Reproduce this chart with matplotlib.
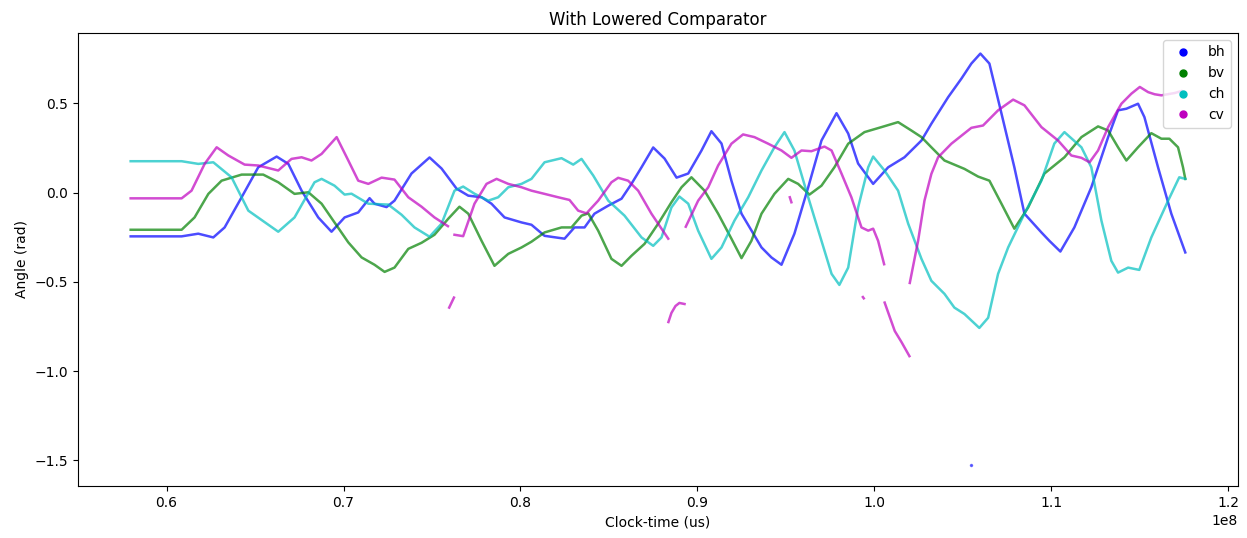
import numpy as np
import matplotlib
matplotlib.use("Agg")
import matplotlib.pyplot as plt
from matplotlib.lines import Line2D

# time values in units of 1e6 us
bh_t = [57.97, 60.85, 61.79, 62.64, 63.28, 64.24, 65.18, 66.22, 66.88, 67.63, 68.57, 69.32, 70.06, 70.83,
        71.47, 71.75, 72.43, 72.88, 73.84, 74.86, 75.54, 76.39, 77.05, 77.80, 78.36, 79.10, 80.06, 80.62,
        81.36, 82.49, 83.05, 83.62, 84.18, 84.96, 85.71, 86.27, 86.84, 87.50, 88.14, 88.82, 89.48, 90.23,
        90.79, 91.36, 91.92, 92.49, 93.62, 94.18, 94.75, 95.48, 96.26, 97.01, 97.86, 98.52, 99.08, 99.93,
        100.78, 101.70, 102.66, 103.22, 104.17, 104.92, 105.48, 105.99, 106.50, 107.18, 107.91, 108.48,
        109.44, 109.89, 110.51, 111.30, 112.26, 113.21, 113.77, 114.24, 114.90, 115.26, 116.03, 116.78, 117.57]
bh_y = [-0.245, -0.245, -0.230, -0.251, -0.195, -0.026, 0.142, 0.202, 0.161, 0.011, -0.139, -0.219, -0.139, -0.111,
        -0.031, -0.062, -0.081, -0.045, 0.107, 0.197, 0.135, 0.022, -0.017, -0.026, -0.062, -0.139, -0.167, -0.180,
        -0.242, -0.258, -0.195, -0.195, -0.118, -0.073, -0.034, 0.049, 0.142, 0.253, 0.191, 0.084, 0.107, 0.236,
        0.344, 0.275, 0.067, -0.118, -0.307, -0.363, -0.404, -0.230, 0.030, 0.292, 0.445, 0.331, 0.163, 0.049,
        0.142, 0.198, 0.292, 0.386, 0.535, 0.639, 0.723, 0.779, 0.723, 0.444, 0.142, -0.118,
        -0.223, -0.270, -0.330, -0.195, 0.030, 0.311, 0.461, 0.470, 0.498, 0.423, 0.142, -0.118, -0.335]
bh_dot_t = [105.48]
bh_dot_y = [-1.528]

bv_t = [57.97, 60.85, 61.58, 62.36, 63.11, 64.24, 65.46, 66.31, 67.23, 68.01, 68.76, 69.49, 70.27, 71.02,
        71.75, 72.32, 72.88, 73.66, 74.41, 75.14, 75.92, 76.55, 77.05, 77.80, 78.53, 79.31, 80.06, 80.62,
        81.36, 82.32, 82.88, 83.45, 83.83, 84.39, 85.14, 85.71, 86.27, 87.01, 87.78, 88.53, 89.10, 89.66,
        90.40, 91.17, 91.92, 92.49, 93.05, 93.62, 94.35, 95.13, 95.69, 96.33, 97.01, 97.74, 98.52, 99.44,
        100.40, 101.34, 102.09, 102.66, 103.22, 103.96, 105.09, 105.86, 106.50, 107.18, 107.91, 108.69,
        109.61, 110.74, 111.70, 112.64, 113.21, 113.77, 114.24, 114.90, 115.65, 116.22, 116.67, 117.16,
        117.44, 117.57]
bv_y = [-0.208, -0.208, -0.139, -0.007, 0.067, 0.101, 0.101, 0.058, -0.007, 0.002, -0.062, -0.167, -0.279, -0.363,
        -0.404, -0.444, -0.420, -0.315, -0.281, -0.236, -0.146, -0.079, -0.118, -0.270, -0.410, -0.343, -0.307, -0.275,
        -0.223, -0.195, -0.195, -0.129, -0.116, -0.213, -0.371, -0.410, -0.354, -0.287, -0.174, -0.054, 0.030, 0.086,
        0.011, -0.118, -0.258, -0.367, -0.270, -0.118, -0.007, 0.077, 0.049, -0.011, 0.039, 0.142, 0.274, 0.339,
        0.367, 0.395, 0.348, 0.311, 0.254, 0.180, 0.133, 0.090, 0.067, -0.062, -0.202, -0.083,
        0.107, 0.198, 0.311, 0.371, 0.348, 0.254, 0.180, 0.254, 0.333, 0.302, 0.302, 0.254,
        0.142, 0.077]

ch_t = [57.97, 60.85, 61.79, 62.64, 63.67, 64.62, 66.31, 67.23, 68.36, 68.76, 69.49, 70.06, 70.45, 71.40,
        72.53, 73.28, 74.01, 74.86, 75.54, 76.27, 76.76, 77.40, 78.18, 78.74, 79.31, 80.06, 80.62, 81.36,
        82.32, 82.98, 83.45, 84.11, 84.96, 85.88, 86.84, 87.50, 87.97, 88.53, 88.98, 89.48, 90.04, 90.79,
        91.36, 92.09, 92.87, 93.62, 94.35, 94.92, 95.48, 96.26, 97.01, 97.58, 98.02, 98.52, 99.08, 99.65,
        99.93, 100.57, 101.34, 101.91, 102.66, 103.22, 103.96, 104.52, 105.09, 105.93, 106.43, 106.99,
        107.56, 108.48, 109.44, 110.17, 110.74, 111.70, 112.26, 112.83, 113.39, 113.77, 114.34, 114.97,
        115.65, 116.60, 117.23, 117.57]
ch_y = [0.176, 0.176, 0.161, 0.170, 0.086, -0.101, -0.219, -0.139, 0.058, 0.077, 0.039, -0.011, -0.006, -0.062,
        -0.067, -0.124, -0.195, -0.247, -0.174, 0.011, 0.034, -0.006, -0.045, -0.026, 0.030, 0.049, 0.077, 0.170,
        0.193, 0.157, 0.189, 0.096, -0.045, -0.129, -0.251, -0.298, -0.251, -0.083, -0.022, -0.062, -0.213, -0.371,
        -0.307, -0.157, -0.026, 0.124, 0.254, 0.339, 0.236, -0.026, -0.270, -0.455, -0.517, -0.420, -0.083, 0.142,
        0.202, 0.124, 0.011, -0.174, -0.371, -0.494, -0.567, -0.644, -0.680, -0.758, -0.701, -0.455,
        -0.307, -0.118, 0.067, 0.275, 0.339, 0.254, 0.142, -0.157, -0.382, -0.448, -0.420, -0.433,
        -0.251, -0.045, 0.086, 0.077]

# cv is wrapped in several pieces
cv_t = [
    [57.97, 60.85, 61.41, 62.15, 62.83, 63.49, 64.41, 65.18, 66.31, 67.06, 67.63, 68.19, 68.76, 69.61,
     70.27, 70.83, 71.40, 72.15, 72.88, 73.66, 74.41, 75.14, 75.90],
    [76.27, 76.76, 77.40, 78.08, 78.65, 79.31, 80.06, 80.62, 81.36, 82.13, 82.77, 83.26, 83.73, 84.39,
     85.14, 85.52, 86.08, 86.65, 87.40, 88.35],
    [89.34, 90.04, 90.61, 91.17, 91.92, 92.58, 93.22, 94.00, 94.75, 95.31, 95.88, 96.44, 97.18, 97.58,
     98.14, 98.70, 99.27, 99.65, 99.93, 100.21, 100.55],
    [100.58, 101.15, 101.53, 101.98],
    [102.00, 102.47, 102.83, 103.22, 103.60, 104.35, 105.48, 106.14, 106.99, 107.84, 108.48, 109.44,
     110.38, 111.13, 111.70, 112.16, 112.64, 113.21, 113.96, 114.52, 115.00, 115.47, 115.84, 116.22,
     116.97, 117.35],
    [75.97, 76.24],
    [88.36, 88.53, 88.76, 88.98, 89.27],
    [95.22, 95.31],
    [99.35, 99.40],
]
cv_y = [
    [-0.032, -0.032, 0.011, 0.161, 0.254, 0.208, 0.157, 0.152, 0.124, 0.189, 0.198, 0.180, 0.217, 0.311,
     0.180, 0.067, 0.049, 0.084, 0.073, -0.026, -0.079, -0.139, -0.188],
    [-0.236, -0.244, -0.062, 0.049, 0.077, 0.049, 0.030, 0.011, -0.007, -0.026, -0.041, -0.101, -0.116, -0.045,
     0.058, 0.083, 0.067, 0.011, -0.118, -0.258],
    [-0.191, -0.045, 0.030, 0.152, 0.274, 0.326, 0.311, 0.274, 0.236, 0.195, 0.236, 0.232, 0.258, 0.236,
     0.107, -0.026, -0.195, -0.213, -0.202, -0.270, -0.401],
    [-0.616, -0.775, -0.837, -0.916],
    [-0.506, -0.270, -0.045, 0.105, 0.198, 0.274, 0.363, 0.376, 0.461, 0.521, 0.489, 0.367,
     0.292, 0.208, 0.195, 0.170, 0.236, 0.367, 0.498, 0.554, 0.592, 0.563, 0.551, 0.545,
     0.558, 0.569],
    [-0.644, -0.588],
    [-0.725, -0.674, -0.635, -0.618, -0.624],
    [-0.026, -0.054],
    [-0.585, -0.592],
]

labels = ["bh", "bv", "ch", "cv"]
colors = ["b", "g", "c", "m"]

fig = plt.figure(figsize=(12.47, 5.38), dpi=100)
ax = fig.add_axes([0.0625, 0.0967, 0.9303, 0.842])

scale = 1e6
lw = 1.8
al = 0.7
ax.plot(np.array(bh_t) * scale, bh_y, color=colors[0], lw=lw, alpha=al)
ax.plot(np.array(bh_dot_t) * scale, bh_dot_y, 'o', color=colors[0], ms=1.5, alpha=0.5)
ax.plot(np.array(bv_t) * scale, bv_y, color=colors[1], lw=lw, alpha=al)
ax.plot(np.array(ch_t) * scale, ch_y, color=colors[2], lw=lw, alpha=al)
for t, y in zip(cv_t, cv_y):
    ax.plot(np.array(t) * scale, y, color=colors[3], lw=lw, alpha=al)

ax.set_title("With Lowered Comparator", fontsize=12)
ax.set_xlabel("Clock-time (us)")
ax.set_ylabel("Angle (rad)")

handles = [Line2D([], [], marker='o', ls='none', color=c, ms=5) for c in colors]
ax.legend(handles, labels, loc="upper right")

fig.savefig("out.png", dpi=100)
